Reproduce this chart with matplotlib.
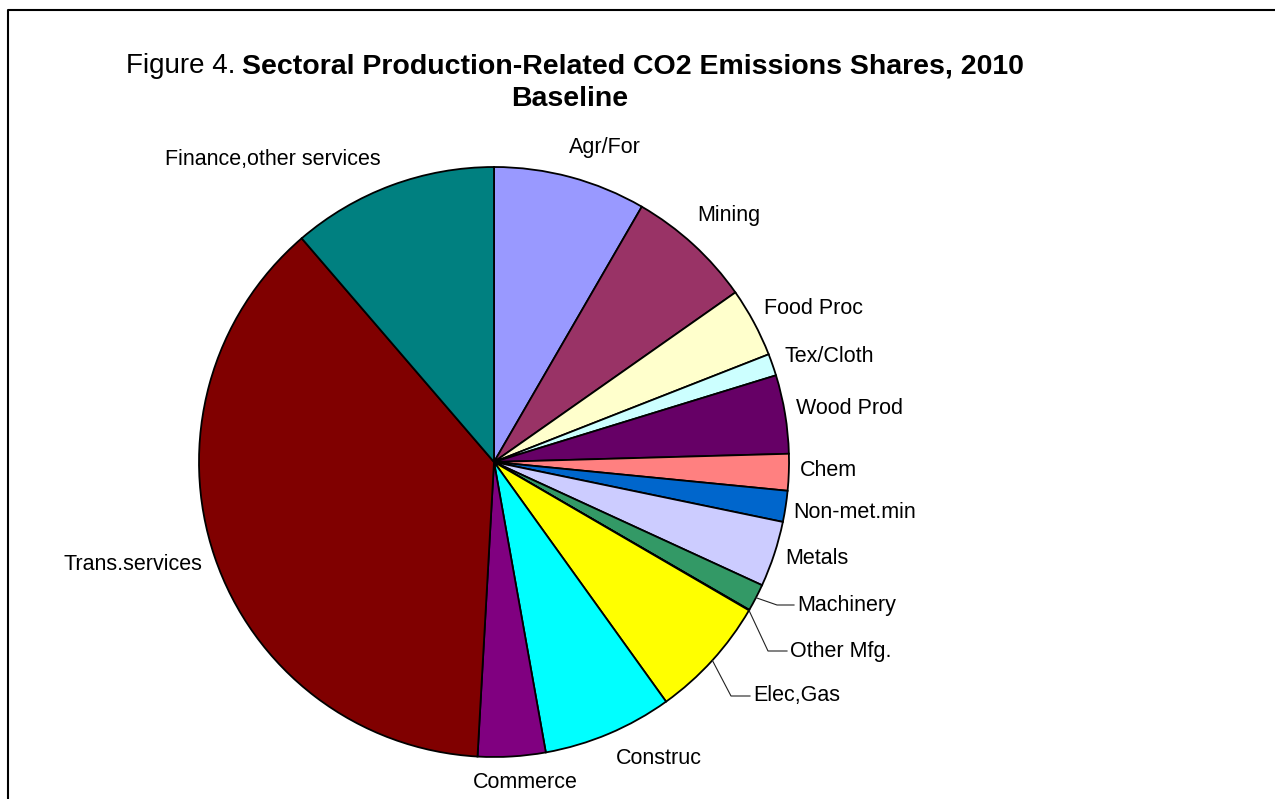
import matplotlib
matplotlib.use('Agg')
import matplotlib.pyplot as plt
import numpy as np

plt.rcParams['font.family'] = ['Liberation Sans', 'DejaVu Sans']

# shares of production-related CO2 emissions (%)
sectors = ['Agr/For', 'Mining', 'Food Proc', 'Tex/Cloth', 'Wood Prod', 'Chem',
           'Non-met.min', 'Metals', 'Machinery', 'Other Mfg.', 'Elec,Gas',
           'Construc', 'Commerce', 'Trans.services', 'Finance,other services']
shares = [8.35, 6.9, 3.8, 1.2, 4.3, 2.0, 1.7, 3.6, 1.5, 0.03, 6.7, 7.1, 3.7, 37.8, 11.3]
colors = ['#9999FF', '#993366', '#FFFFCC', '#CCFFFF', '#660066', '#FF8080',
          '#0066CC', '#CCCCFF', '#339966', '#000080', '#FFFF00', '#00FFFF',
          '#800080', '#800000', '#008080']

# label placement in pixel coords (layout only)
label_pos = {
    'Agr/For': (605, 148),
    'Mining': (729, 216),
    'Food Proc': (814, 308),
    'Tex/Cloth': (829, 356),
    'Wood Prod': (849, 408),
    'Chem': (828, 470),
    'Non-met.min': (855, 513),
    'Metals': (817, 559),
    'Construc': (659, 758),
    'Commerce': (525, 782),
    'Trans.services': (133, 565),
    'Finance,other services': (273, 159),
}
# labels with leader lines: elbow point, end of horizontal segment
leaders = {
    'Machinery': ((777, 605), (794, 605)),
    'Other Mfg.': ((768, 651), (787, 651)),
    'Elec,Gas': ((731, 696), (750, 696)),
}

cx, cy, R = 494, 462, 295

fig = plt.figure(figsize=(12.75, 7.99), dpi=100)
ax = fig.add_axes([0, 0, 1, 1])

wedges, _ = ax.pie(shares, colors=colors, startangle=-90, counterclock=True,
                   center=(cx, cy), radius=R,
                   wedgeprops=dict(edgecolor='black', linewidth=1.3))

ax.set_xlim(0, 1275)
ax.set_ylim(799, 0)
ax.set_aspect('equal', adjustable='box')
ax.axis('off')

fs = 15.5
for w, name in zip(wedges, sectors):
    if name in label_pos:
        x, y = label_pos[name]
        ax.text(x, y, name, ha='center', va='center', fontsize=fs)
    else:
        mid = np.deg2rad((w.theta1 + w.theta2) / 2)
        if name == 'Other Mfg.':
            mid = np.deg2rad(w.theta2)
        px, py = cx + R * np.cos(mid), cy + R * np.sin(mid)
        (ex, ey), (hx, hy) = leaders[name]
        ax.plot([px, ex, hx], [py, ey, hy], color='#222222', lw=0.8)
        ax.text(hx + 3, hy, name, ha='left', va='center', fontsize=fs)

# title
ax.text(235, 73, 'Figure 4.', ha='right', va='baseline', fontsize=20)
ax.text(242, 73, 'Sectoral Production-Related CO2 Emissions Shares, 2010',
        ha='left', va='baseline', fontsize=20.5, fontweight='bold')
ax.text(570, 106, 'Baseline', ha='center', va='baseline', fontsize=20.5,
        fontweight='bold')

# chart frame (only top and left edges visible)
ax.plot([8, 8, 1275], [799, 10, 10], color='black', lw=1.5, clip_on=False)

fig.savefig('out.png', dpi=100)
